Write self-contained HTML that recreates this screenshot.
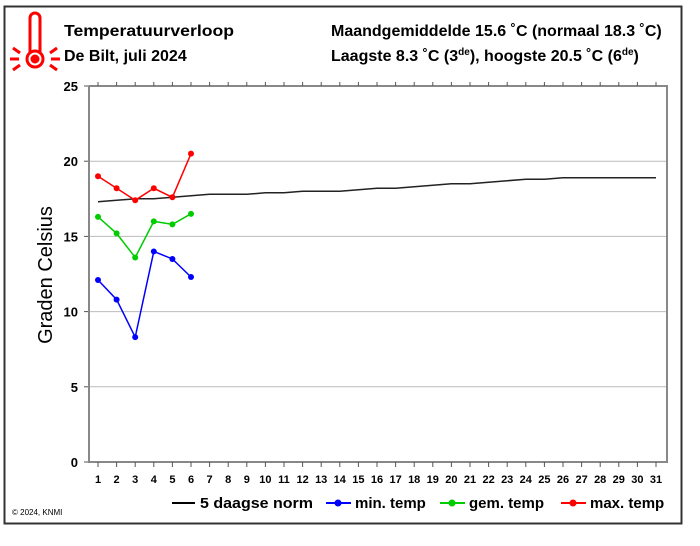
<!DOCTYPE html>
<html><head><meta charset="utf-8"><style>
body{margin:0;background:#fff;font-family:"Liberation Sans",Arial,sans-serif;}
svg text{font-family:"Liberation Sans",Arial,sans-serif;}
</style></head><body>
<svg id="chart" width="700" height="541" viewBox="0 0 700 541" xmlns="http://www.w3.org/2000/svg">
<rect x="4.5" y="6.5" width="677" height="517" fill="#fff" stroke="#333" stroke-width="2"/>
<g stroke="#f00" fill="none" stroke-width="3">
<path d="M30 52 V18 a5 5 0 0 1 10 0 V52"/>
<circle cx="35" cy="59" r="8"/>
<circle cx="35" cy="59" r="3" fill="#f00"/>
<path d="M10 59h9M51 59h9M13 48l7 5M57 48l-7 5M13 70l7-5M57 70l-7-5"/>
</g>
<text x="64" y="36" font-size="16" font-weight="bold" textLength="170" lengthAdjust="spacingAndGlyphs">Temperatuurverloop</text>
<text x="64" y="61" font-size="16" font-weight="bold">De Bilt, juli 2024</text>
<text x="331" y="36" font-size="16" font-weight="bold">Maandgemiddelde 15.6 ˚C (normaal 18.3 ˚C)</text>
<text x="331" y="61" font-size="16" font-weight="bold">Laagste 8.3 ˚C (3<tspan font-size="10" dy="-6">de</tspan><tspan dy="6">), hoogste 20.5 ˚C (6</tspan><tspan font-size="10" dy="-6">de</tspan><tspan dy="6">)</tspan></text>
<text transform="translate(52,275) rotate(-90)" text-anchor="middle" font-size="20">Graden Celsius</text>
<g id="grid"></g>
<g id="axes"></g>
<g id="series"></g>
<g font-size="15" font-weight="bold">
<g><line x1="172" y1="503" x2="195" y2="503" stroke="#000" stroke-width="2"/><text x="200" y="508" textLength="113" lengthAdjust="spacingAndGlyphs">5 daagse norm</text></g>
<g><line x1="326" y1="503" x2="351" y2="503" stroke="#00f" stroke-width="2"/><circle cx="338" cy="503" r="3.5" fill="#00f"/><text x="355" y="508">min. temp</text></g>
<g><line x1="440" y1="503" x2="465" y2="503" stroke="#0c0" stroke-width="2"/><circle cx="452" cy="503" r="3.5" fill="#0c0"/><text x="469" y="508">gem. temp</text></g>
<g><line x1="561" y1="503" x2="586" y2="503" stroke="#f00" stroke-width="2"/><circle cx="573" cy="503" r="3.5" fill="#f00"/><text x="590" y="508">max. temp</text></g>
</g>
<text x="12" y="515" font-size="8">© 2024, KNMI</text>
</svg>
<script>
const days=[1,2,3,4,5,6,7,8,9,10,11,12,13,14,15,16,17,18,19,20,21,22,23,24,25,26,27,28,29,30,31];
const yTicks=[0,5,10,15,20,25];
const normValues=[17.3,17.4,17.5,17.5,17.6,17.7,17.8,17.8,17.8,17.9,17.9,18.0,18.0,18.0,18.1,18.2,18.2,18.3,18.4,18.5,18.5,18.6,18.7,18.8,18.8,18.9,18.9,18.9,18.9,18.9,18.9];
const minValues=[12.1,10.8,8.3,14.0,13.5,12.3];
const gemValues=[16.3,15.2,13.6,16.0,15.8,16.5];
const maxValues=[19.0,18.2,17.4,18.2,17.6,20.5];

const NS="http://www.w3.org/2000/svg";
const L=89,R=667,T=86,B=462;
const xs=d=>98+(d-1)*(656-98)/30;
const ys=v=>B-(v/25)*(B-T);
function mk(tag,attrs,parent){const e=document.createElementNS(NS,tag);for(const k in attrs)e.setAttribute(k,attrs[k]);parent.appendChild(e);return e;}
const grid=document.getElementById('grid'),axes=document.getElementById('axes'),series=document.getElementById('series');
yTicks.forEach(v=>{
 if(v>0&&v<25){const g=mk('line',{x1:L,x2:R,y1:ys(v),y2:ys(v),stroke:'#bbb','stroke-width':1},grid);
 
 }
 const t=mk('text',{x:78,y:ys(v)+5,'text-anchor':'end','font-size':13,'font-weight':'bold'},axes);t.textContent=v;
 
 
 mk('line',{x1:L-5,x2:L,y1:ys(v),y2:ys(v),stroke:'#555'},axes);
});
const ax=mk('path',{d:`M${L} ${T}V${B}H${R}V${T}H${L}`,fill:'none',stroke:'#888','stroke-width':2},axes);


days.forEach(d=>{
 const x=xs(d);
 mk('line',{x1:x,x2:x,y1:B,y2:B+5,stroke:'#555'},axes);
 mk('line',{x1:x,x2:x,y1:T,y2:T-4,stroke:'#555'},axes);
 const t=mk('text',{x:x,y:B+21,'text-anchor':'middle','font-size':11,'font-weight':'bold'},axes);t.textContent=d;
 
 
});
function line(vals,color,name,dots){
 const p=mk('polyline',{points:vals.map((v,i)=>xs(days[i])+','+ys(v)).join(' '),fill:'none',stroke:color,'stroke-width':1.5},series);
 
 
 if(dots)vals.forEach((v,i)=>{const c=mk('circle',{cx:xs(days[i]),cy:ys(v),r:3,fill:color},series);
 
 });
}
line(normValues,'#222','norm',false);
line(minValues,'#00f','min-temp',true);
line(gemValues,'#0c0','gem-temp',true);
line(maxValues,'#f00','max-temp',true);
</script>
</body></html>
